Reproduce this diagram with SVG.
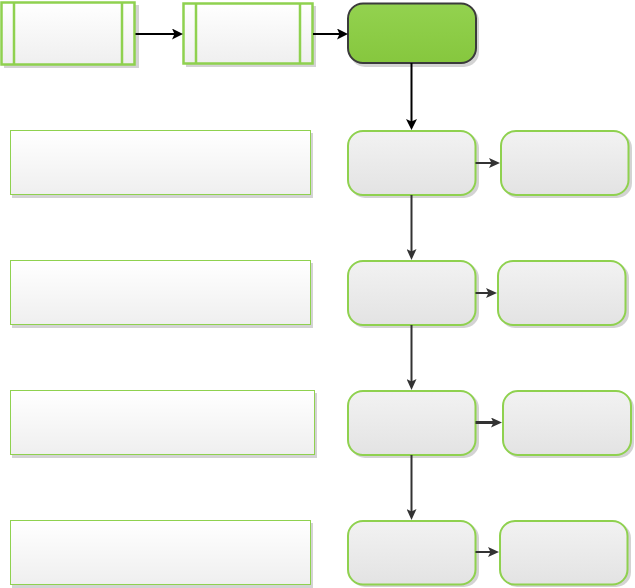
<svg xmlns="http://www.w3.org/2000/svg" width="635" height="588" viewBox="0 0 635 588">
<defs>
<linearGradient id="gWhite" x1="0" y1="0" x2="0" y2="1"><stop offset="0" stop-color="#ffffff"/><stop offset="1" stop-color="#efefef"/></linearGradient>
<linearGradient id="gGray" x1="0" y1="0" x2="0" y2="1"><stop offset="0" stop-color="#f2f2f2"/><stop offset="1" stop-color="#e3e3e3"/></linearGradient>
<linearGradient id="gGreen" x1="0" y1="0" x2="0" y2="1"><stop offset="0" stop-color="#93d24f"/><stop offset="1" stop-color="#86c73e"/></linearGradient>
<marker id="aBlack" viewBox="0 0 11 11" refX="3" refY="5.5" markerWidth="11" markerHeight="11" markerUnits="userSpaceOnUse" orient="auto"><path d="M0,0 L11,5.5 L0,11 L2.5,5.5 Z" fill="#000"/></marker>
<marker id="aDark" viewBox="0 0 11 10" refX="3" refY="5" markerWidth="11" markerHeight="10" markerUnits="userSpaceOnUse" orient="auto"><path d="M0,0 L11,5 L0,10 L2.5,5 Z" fill="#333"/></marker>
</defs>
<style>
.shadow{fill:#c8c8c8;stroke:none;opacity:0.8}
.proc{fill:url(#gWhite);stroke:#8fd14f;stroke-width:2.5}
.proc-line{stroke:#8fd14f;stroke-width:2.5;fill:none}
.note{fill:url(#gWhite);stroke:#8fd14f;stroke-width:1}
.step{fill:url(#gGray);stroke:#8fd14f;stroke-width:2}
.start{fill:url(#gGreen);stroke:#3b3b3b;stroke-width:2}
.conn-black{stroke:#000;stroke-width:2;fill:none;marker-end:url(#aBlack)}
.conn{stroke:#333;stroke-width:2;fill:none;marker-end:url(#aDark)}
</style>

<g id="proc1">
<rect class="shadow" x="4" y="5" width="135" height="63"/>
<rect class="proc" x="1.5" y="2.5" width="133" height="62"/>
<line class="proc-line" x1="14" y1="2.5" x2="14" y2="64.5"/>
<line class="proc-line" x1="122" y1="2.5" x2="122" y2="64.5"/>
</g>
<g id="proc2">
<rect class="shadow" x="186" y="6" width="130" height="61"/>
<rect class="proc" x="183.5" y="3.5" width="129" height="60"/>
<line class="proc-line" x1="196" y1="3.5" x2="196" y2="63.5"/>
<line class="proc-line" x1="300" y1="3.5" x2="300" y2="63.5"/>
</g>
<g id="start">
<rect class="shadow" x="350" y="6" width="129" height="61" rx="15"/>
<rect class="start" x="348" y="3.5" width="128" height="59.5" rx="15"/>
</g>

<g id="note1"><rect class="shadow" x="12" y="133" width="301" height="65"/><rect class="note" x="10.5" y="130.5" width="300" height="64"/></g>
<g id="note2"><rect class="shadow" x="12" y="263" width="301" height="65"/><rect class="note" x="10.5" y="260.5" width="300" height="64"/></g>
<g id="note3"><rect class="shadow" x="12" y="393" width="305" height="65"/><rect class="note" x="10.5" y="390.5" width="304" height="64"/></g>
<g id="note4"><rect class="shadow" x="12" y="523" width="301" height="65"/><rect class="note" x="10.5" y="520.5" width="300" height="64"/></g>

<g id="step1"><rect class="shadow" x="350" y="133" width="129" height="65" rx="15"/><rect class="step" x="348" y="131" width="127.5" height="64" rx="15"/></g>
<g id="out1"><rect class="shadow" x="503" y="133" width="129" height="65" rx="15"/><rect class="step" x="501" y="131" width="127.5" height="64" rx="15"/></g>
<g id="step2"><rect class="shadow" x="350" y="263" width="129" height="65" rx="15"/><rect class="step" x="348" y="261" width="127.5" height="64" rx="15"/></g>
<g id="out2"><rect class="shadow" x="500" y="263" width="129" height="65" rx="15"/><rect class="step" x="498" y="261" width="127.5" height="64" rx="15"/></g>
<g id="step3"><rect class="shadow" x="350" y="393" width="129" height="65" rx="15"/><rect class="step" x="348" y="391" width="127.5" height="64" rx="15"/></g>
<g id="out3"><rect class="shadow" x="505" y="393" width="129" height="65" rx="15"/><rect class="step" x="503" y="391" width="128" height="64" rx="15"/></g>
<g id="step4"><rect class="shadow" x="350" y="523" width="129" height="64" rx="15"/><rect class="step" x="348" y="521" width="127.5" height="63.5" rx="15"/></g>
<g id="out4"><rect class="shadow" x="502" y="523" width="129" height="64" rx="15"/><rect class="step" x="500" y="521" width="127.5" height="63.5" rx="15"/></g>

<g id="connectors">
<line class="conn-black" x1="135.5" y1="34" x2="175" y2="34"/>
<line class="conn-black" x1="313" y1="34" x2="340" y2="34"/>
<line class="conn-black" x1="411.5" y1="63" x2="411.5" y2="122"/>
<line class="conn" x1="475.5" y1="163" x2="492" y2="163"/>
<line class="conn" x1="411.5" y1="195" x2="411.5" y2="252"/>
<line class="conn" x1="475.5" y1="293" x2="489" y2="293"/>
<line class="conn" x1="411.5" y1="325" x2="411.5" y2="382"/>
<line class="conn" x1="475.5" y1="422.5" x2="494" y2="422.5" style="stroke-width:3"/>
<line class="conn" x1="411.5" y1="455" x2="411.5" y2="512"/>
<line class="conn" x1="475.5" y1="552" x2="491" y2="552"/>
</g>
</svg>
